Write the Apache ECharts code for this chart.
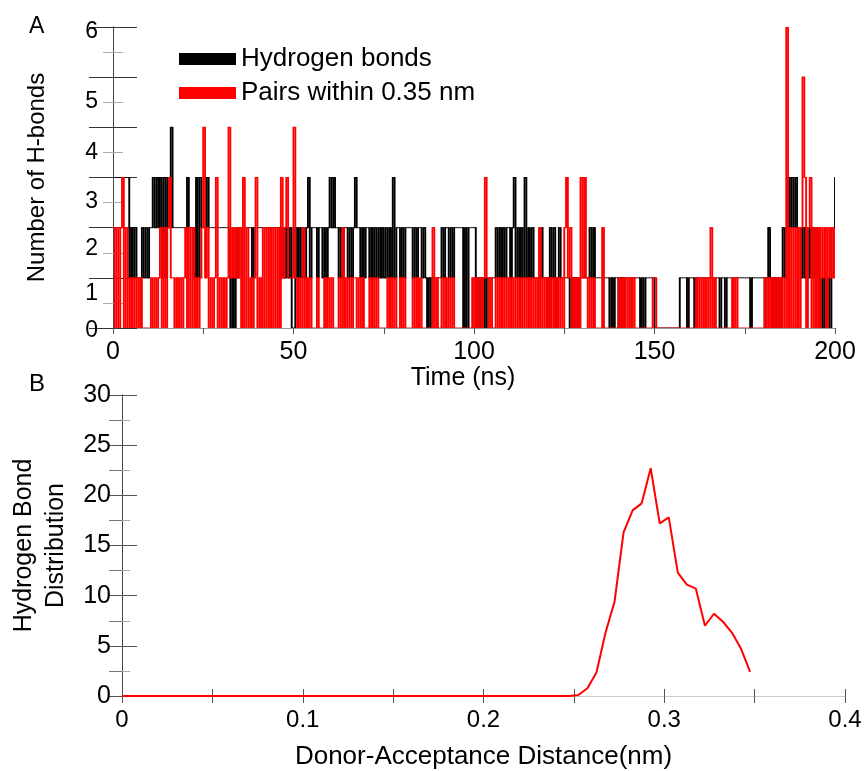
<!DOCTYPE html>
<html>
<head>
<meta charset="utf-8">
<script src="https://cdn.jsdelivr.net/npm/echarts@6/dist/echarts.min.js"></script>
<style>html,body{margin:0;padding:0;background:#fff}#c{width:866px;height:771px}</style>
</head>
<body>
<div id="c"></div>
<script>
// ---- Panel A: number of H-bonds vs time (sampled every 0.5 ns, 0..200 ns) ----
const timeStart = 0;
const timeStep = 0.5;
const hbondCounts = [
 3,3,3,3,3,3,3,3,3,1, 2,1,2,1,1,1,2,1,2,1, 2,2,3,2,3,2,3,1,3,1, 3,2,4,2,2,2,2,2,2,2,
 2,3,2,2,2,1,3,1,3,2, 2,2,3,2,2,2,2,2,2,2, 2,2,2,2,2,0,1,0,2,1, 2,2,2,2,2,2,2,1,2,2,
 2,2,2,2,2,2,2,2,2,2, 2,2,2,1,2,1,2,1,2,0, 0,2,1,2,1,2,1,2,3,1, 2,2,2,1,2,2,1,2,1,2,
 3,2,3,2,2,1,2,1,2,2, 1,2,1,2,3,2,2,1,2,1, 2,2,1,2,1,2,1,2,1,2, 1,2,1,2,1,3,1,2,2,1,
 2,1,2,2,2,2,1,2,1,2, 2,1,2,1,0,1,0,1,1,1, 1,1,2,1,2,2,1,2,1,2, 2,2,2,2,0,2,0,2,2,2,
 2,0,1,0,1,0,1,0,1,1, 1,1,2,1,2,1,2,1,2,2, 1,2,3,1,2,1,2,1,3,1, 2,1,2,1,1,1,1,2,1,1,
 1,0,2,1,2,0,1,2,1,1, 1,1,1,0,1,0,1,0,1,1, 1,1,1,1,2,1,2,1,1,1, 1,1,1,1,1,0,1,0,1,1,
 0,1,0,1,1,1,1,1,1,1, 1,1,0,1,0,1,1,1,1,1, 0,0,0,0,0,0,0,0,0,0, 0,0,0,0,1,1,1,1,0,1,
 1,1,0,1,1,1,1,1,1,1, 1,1,1,1,1,1,0,1,1,0, 1,1,1,1,1,1,1,1,1,1, 1,1,1,0,1,1,1,1,1,1,
 1,0,1,2,1,0,1,0,1,0, 1,2,1,2,3,2,3,2,3,2, 2,1,2,1,2,1,2,1,2,1, 2,0,1,0,1,0,1,0,2,2,
 3
];
const pairCounts = [
 2,0,2,0,2,3,0,2,0,1, 0,1,0,1,0,1,0,0,0,0, 0,1,0,1,0,1,2,0,2,0, 2,3,1,1,0,1,0,1,0,1,
 2,0,2,0,2,0,1,0,1,2, 4,1,2,0,1,0,1,3,0,1, 0,1,0,1,4,1,2,1,2,1, 2,0,3,0,2,0,1,0,1,3,
 0,1,0,2,0,2,0,2,0,2, 0,2,0,3,1,2,3,1,1,1, 4,1,0,1,0,2,0,1,0,1, 0,0,0,1,0,0,0,1,0,1,
 0,1,0,0,0,1,0,2,0,1, 0,1,0,1,1,0,1,0,1,0, 0,0,1,0,1,0,1,0,0,0, 0,0,1,0,1,0,1,0,0,1,
 0,1,0,0,0,0,1,0,1,0, 1,0,0,0,0,0,0,2,0,1, 0,0,1,0,1,0,1,0,1,0, 0,0,0,0,0,0,0,0,0,1,
 0,1,0,1,0,1,3,1,0,1, 0,0,1,0,1,0,1,0,1,0, 1,0,1,0,1,0,1,0,1,0, 1,0,1,0,1,0,2,0,1,0,
 1,0,1,0,1,0,1,0,1,0, 2,3,1,2,0,1,0,1,0,3, 1,3,1,0,1,0,1,0,0,0, 0,2,0,0,0,0,0,0,0,0,
 1,0,1,0,1,0,1,0,1,0, 0,0,0,0,0,0,0,0,0,1, 1,0,0,0,0,0,0,0,0,0, 0,0,0,0,0,0,0,0,0,0,
 0,0,0,1,0,1,0,1,0,1, 0,2,0,1,0,0,0,0,0,0, 0,0,0,1,0,1,0,0,0,0, 0,0,0,0,0,0,0,0,0,0,
 0,1,0,1,0,1,0,1,0,1, 0,1,0,6,0,2,0,2,0,2, 0,2,5,3,0,2,3,0,2,0, 2,0,2,1,2,0,2,1,2,1,
 2
];
const timeTicks = [0, 50, 100, 150, 200];
const countTicks = [0, 1, 2, 3, 4, 5, 6];

// ---- Panel B: hydrogen bond distribution vs donor-acceptor distance ----
const distances = [0, 0.2475, 0.2525, 0.2575, 0.2625, 0.2675, 0.2725, 0.2775, 0.2825, 0.2875, 0.2925,
  0.2975, 0.3025, 0.3075, 0.3125, 0.3175, 0.3225, 0.3275, 0.3325, 0.3375, 0.3425, 0.3475];
const distribution = [0, 0, 0.1, 0.77, 2.35, 6.3, 9.4, 16.3, 18.5, 19.2, 22.7,
  17.2, 17.8, 12.3, 11.1, 10.7, 7.0, 8.2, 7.4, 6.3, 4.7, 2.4];

const seriesNames = ['Hydrogen bonds', 'Pairs within 0.35 nm'];
const seriesColors = ['#000000', '#ff0000'];

// label placement quirk of the original figure (downward shift in px of each count label)
const countLabelShift = [3, 16, 21, 24, 25, 24, 5];

// one step segment per sample: [t_i, v_i, t_{i+1}, v_{i+1}]
function toSteps(vals) {
  const out = [];
  for (let i = 0; i < vals.length - 1; i++) {
    out.push([timeStart + i * timeStep, vals[i], timeStart + (i + 1) * timeStep, vals[i + 1]]);
  }
  return out;
}
// horizontal run drawn as a thin line, the jump to the next sample as a narrow bar
function stepRenderer(color, runWidth, jumpWidth) {
  return function (params, api) {
    const p0 = api.coord([api.value(0), api.value(1)]);
    const p1 = api.coord([api.value(2), api.value(1)]);
    const p2 = api.coord([api.value(2), api.value(3)]);
    const children = [{
      type: 'line',
      shape: {x1: p0[0], y1: p0[1], x2: p1[0], y2: p1[1]},
      style: {stroke: color, lineWidth: runWidth}
    }];
    if (Math.abs(p2[1] - p1[1]) > 0.5) {
      const top = Math.min(p1[1], p2[1]);
      children.push({
        type: 'rect',
        shape: {x: p1[0] - jumpWidth / 2, y: top - runWidth / 2, width: jumpWidth, height: Math.abs(p2[1] - p1[1]) + runWidth},
        style: {fill: color}
      });
    }
    return {type: 'group', children: children, silent: true};
  };
}

const FONT = "'Liberation Sans', Arial, Helvetica, sans-serif";
const chart = echarts.init(document.getElementById('c'), null, {renderer: 'canvas'});

const baseAxisLine = {show: true, lineStyle: {color: '#444', width: 1}};

const countRich = {};
countTicks.forEach((v, i) => {
  countRich['c' + v] = {fontSize: 23, fontFamily: FONT, color: '#000', padding: [countLabelShift[i] * 2, 0, 0, 0]};
});

const option = {
  animation: false,
  textStyle: {fontFamily: FONT, color: '#000'},
  legend: {
    data: seriesNames,
    orient: 'vertical',
    left: 174, top: 41,
    itemWidth: 57, itemHeight: 12, itemGap: 8,
    icon: 'rect',
    textStyle: {fontSize: 26, color: '#000', fontFamily: FONT, lineHeight: 24}
  },
  graphic: [
    {type: 'text', left: 29, top: 15, style: {text: 'A', font: "23px " + FONT, fill: '#000'}},
    {type: 'text', left: 29, top: 372, style: {text: 'B', font: "24px " + FONT, fill: '#000'}}
  ],
  grid: [
    {left: 113, top: 27, width: 722, height: 301},
    {left: 117, top: 395, width: 728, height: 302}
  ],
  xAxis: [
    {gridIndex: 0, type: 'value', position: 'bottom', min: timeTicks[0], max: timeTicks[timeTicks.length-1], interval: 50,
     axisLine: baseAxisLine, axisTick: {show: false}, splitLine: {show: false},
     axisLabel: {fontSize: 25, color: '#000', margin: 12},
     name: 'Time (ns)', nameLocation: 'middle', nameGap: 37, nameTextStyle: {fontSize: 25, color: '#000', padding: [0, 22, 0, 0]}},
    {gridIndex: 0, type: 'value', position: 'top', min: 0, max: 200, interval: 25,
     axisLine: {show: true, lineStyle: {color: '#999'}}, axisTick: {show: true, inside: true, length: 6, lineStyle: {color: '#555'}},
     axisLabel: {show: false}, splitLine: {show: false}},
    {gridIndex: 1, type: 'value', position: 'bottom', min: 0, max: 0.4, interval: 0.1,
     axisLine: baseAxisLine, axisTick: {show: true, inside: true, length: 7, lineStyle: {color: '#555'}},
     minorTick: {show: true, splitNumber: 2, length: 7, lineStyle: {color: '#555'}},
     splitLine: {show: false},
     axisLabel: {fontSize: 24, color: '#000', margin: 12},
     name: 'Donor-Acceptance Distance(nm)', nameLocation: 'middle', nameGap: 48, nameTextStyle: {fontSize: 26, color: '#000'}},
    {gridIndex: 1, type: 'value', position: 'top', min: 0, max: 0.4, interval: 0.1,
     axisLine: {show: true, lineStyle: {color: '#ccc'}}, axisTick: {show: true, inside: true, length: 7, lineStyle: {color: '#555'}},
     minorTick: {show: true, splitNumber: 2, length: 7, lineStyle: {color: '#555'}},
     axisLabel: {show: false}, splitLine: {show: false}}
  ],
  yAxis: [
    {gridIndex: 0, type: 'value', position: 'left', min: countTicks[0], max: countTicks[countTicks.length-1], interval: 1,
     axisLine: baseAxisLine, axisTick: {show: true, inside: true, length: 24, lineStyle: {color: '#333'}},
     minorTick: {show: true, splitNumber: 2, length: 10, lineStyle: {color: '#aaa'}},
     splitLine: {show: false},
     axisLabel: {fontSize: 23, color: '#000', margin: 15,
       formatter: (v) => '{c' + v + '|' + v + '}', rich: countRich},
     name: 'Number of H-bonds', nameLocation: 'middle', nameGap: 64, nameTextStyle: {fontSize: 24, color: '#000'}},
    {gridIndex: 0, type: 'value', position: 'right', min: 0, max: 6, interval: 1,
     axisLine: baseAxisLine, axisTick: {show: true, inside: true, length: 24, lineStyle: {color: '#333'}},
     minorTick: {show: true, splitNumber: 2, length: 10, lineStyle: {color: '#aaa'}},
     splitLine: {show: false}, axisLabel: {show: false}},
    {gridIndex: 1, type: 'value', position: 'left', min: 0, max: 30, interval: 5,
     axisLine: baseAxisLine, axisTick: {show: true, inside: true, length: 15, lineStyle: {color: '#555'}},
     minorTick: {show: true, splitNumber: 2, length: 8, lineStyle: {color: '#aaa'}},
     splitLine: {show: false},
     axisLabel: {fontSize: 25, color: '#000', margin: 11},
     name: 'Hydrogen Bond\nDistribution', nameLocation: 'middle', nameGap: 50,
     nameTextStyle: {fontSize: 25, color: '#000', lineHeight: 32}},
    {gridIndex: 1, type: 'value', position: 'right', min: 0, max: 30, interval: 5,
     axisLine: baseAxisLine, axisTick: {show: true, inside: true, length: 13, lineStyle: {color: '#555'}},
     minorTick: {show: true, splitNumber: 2, length: 13, lineStyle: {color: '#777'}},
     splitLine: {show: false}, axisLabel: {show: false}}
  ],
  series: [
    {name: seriesNames[0], type: 'custom', xAxisIndex: 0, yAxisIndex: 0,
     data: toSteps(hbondCounts), encode: {x: [0, 2], y: [1, 3]},
     renderItem: stepRenderer(seriesColors[0], 1, 1.9), itemStyle: {color: seriesColors[0]}, clip: true, z: 2},
    {name: seriesNames[1], type: 'custom', xAxisIndex: 0, yAxisIndex: 0,
     data: toSteps(pairCounts), encode: {x: [0, 2], y: [1, 3]},
     renderItem: stepRenderer(seriesColors[1], 1, 1.9), itemStyle: {color: seriesColors[1]}, clip: true, z: 3},
    {name: 'distribution', type: 'line', xAxisIndex: 2, yAxisIndex: 2,
     data: distances.map((d, i) => [d, distribution[i]]), showSymbol: false, symbol: 'none',
     lineStyle: {color: '#ff0000', width: 2}, z: 3}
  ]
};
chart.setOption(option);
</script>
</body>
</html>
